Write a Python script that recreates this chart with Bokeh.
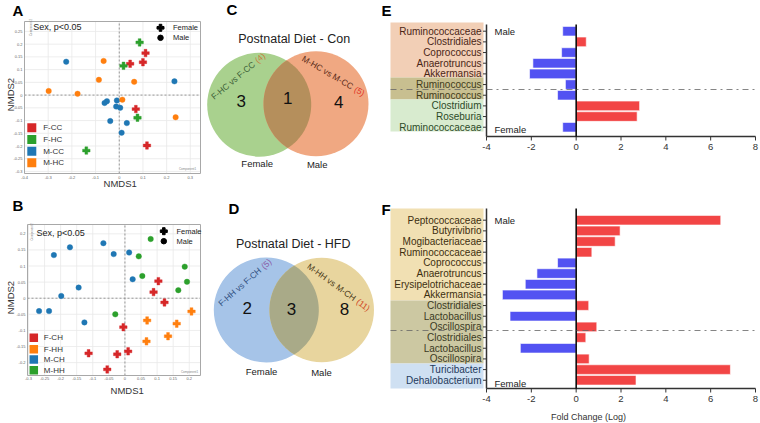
import numpy as np
from bokeh.plotting import figure
from bokeh.layouts import column, row
from bokeh.models import Range1d
from bokeh.embed import file_html
from bokeh.resources import INLINE
from bokeh.core.properties import value

FONT = "Liberation Sans"

# ---------------- DATA ----------------
# Panel A : NMDS (control postnatal diet)
a_groups = ["F-CC", "F-HC", "M-CC", "M-HC"]
a_colors = ["#d62728", "#2ca02c", "#1f77b4", "#ff7f0e"]
a_sex = ["Female", "Female", "Male", "Male"]
a_fcc_x = [0.111, 0.046, 0.100, 0.070, 0.117]
a_fcc_y = [0.165, 0.123, 0.129, -0.055, -0.198]
a_fhc_x = [0.086, 0.018, 0.077, -0.139]
a_fhc_y = [0.207, 0.115, -0.089, -0.218]
a_mcc_x = [-0.224, 0.233, -0.062, -0.052, -0.010, -0.013, 0.004, -0.038, 0.032, 0.010]
a_mcc_y = [0.131, 0.054, -0.031, -0.024, -0.021, -0.045, -0.050, -0.102, -0.110, -0.148]
a_mhc_x = [-0.066, -0.086, 0.063, -0.298, -0.176, 0.013, 0.238]
a_mhc_y = [0.134, 0.060, 0.052, 0.016, 0.005, -0.018, -0.087]
a_xticks = [-0.4, -0.3, -0.2, -0.1, 0, 0.1, 0.2, 0.3]
a_yticks = [-0.3, -0.25, -0.2, -0.15, -0.1, -0.05, 0, 0.05, 0.1, 0.15, 0.2, 0.25]

# Panel B : NMDS (HFD postnatal diet)
b_groups = ["F-CH", "F-HH", "M-CH", "M-HH"]
b_colors = ["#d62728", "#ff7f0e", "#1f77b4", "#2ca02c"]
b_sex = ["Female", "Female", "Male", "Male"]
b_fch_x = [0.104, 0.089, 0.123, -0.005, -0.113, -0.024, 0.010, -0.055]
b_fch_y = [0.053, 0.019, -0.013, -0.090, -0.171, -0.174, -0.165, -0.221]
b_fhh_x = [0.069, 0.067, 0.134, 0.161, 0.207]
b_fhh_y = [-0.069, -0.134, -0.118, -0.079, -0.041]
b_mch_x = [-0.221, -0.171, -0.067, -0.035, 0.013, 0.024, -0.144, -0.198, -0.267, -0.236, -0.126]
b_mch_y = [0.134, 0.158, 0.171, 0.137, 0.142, 0.059, 0.033, 0.007, -0.040, -0.040, -0.075]
b_mhh_x = [0.080, 0.043, 0.186, 0.054, 0.193, 0.166, -0.030]
b_mhh_y = [0.184, 0.130, 0.098, 0.069, 0.051, 0.025, -0.050]
b_xticks = [-0.3, -0.25, -0.2, -0.15, -0.1, -0.05, 0, 0.05, 0.1, 0.15, 0.2]
b_yticks = [-0.2, -0.15, -0.1, -0.05, 0, 0.05, 0.1, 0.15, 0.2]

stat_text = "Sex, p<0.05"
nmds_x_title = "NMDS1"
nmds_y_title = "NMDS2"

# Panel C / D : Venn diagrams
c_title = "Postnatal Diet - Con"
c_sets = ["Female", "Male"]
c_comparisons = ["F-HC vs F-CC", "M-HC vs M-CC"]
c_totals = ["(4)", "(5)"]
c_counts = ["3", "1", "4"]          # female only, shared, male only

d_title = "Postnatal Diet - HFD"
d_sets = ["Female", "Male"]
d_comparisons = ["F-HH vs F-CH", "M-HH vs M-CH"]
d_totals = ["(5)", "(11)"]
d_counts = ["2", "3", "8"]

# Panel E / F : fold change (log)
e_taxa = ["Ruminococcaceae", "Clostridiales", "Coprococcus", "Anaerotruncus", "Akkermansia",
          "Ruminococcus", "Ruminococcus", "Clostridium", "Roseburia", "Ruminococcaceae"]
e_fc = [-0.60, 0.45, -0.65, -1.93, -2.08, -0.48, -0.83, 2.83, 2.72, -0.60]
e_group = ["Male"] * 5 + ["Both"] * 2 + ["Female"] * 3

f_taxa = ["Peptococcaceae", "Butyrivibrio", "Mogibacteriaceae", "Ruminococcaceae", "Coprococcus",
          "Anaerotruncus", "Erysipelotrichaceae", "Akkermansia", "Clostridiales", "Lactobacillus",
          "Oscillospira", "Clostridiales", "Lactobacillus", "Oscillospira", "Turicibacter",
          "Dehalobacterium"]
f_fc = [6.45, 1.96, 1.74, 0.70, -0.83, -1.75, -2.27, -3.29, 0.56, -2.95, 0.92, 0.43, -2.49, 0.58,
        6.88, 2.67]
f_group = ["Male"] * 8 + ["Both"] * 6 + ["Female"] * 2
fc_ticks = [-4, -2, 0, 2, 4, 6, 8]
fc_title = "Fold Change (Log)"


# ---------------- helpers ----------------
class Frame:
    """maps page pixels (layout) to data units of one panel"""
    def __init__(s, fl, ft, fr, fb, xr, yr):
        s.fl, s.ft, s.fr, s.fb, s.xr, s.yr = fl, ft, fr, fb, xr, yr

    def x(s, px):
        return s.xr[0] + (px - s.fl) * (s.xr[1] - s.xr[0]) / (s.fr - s.fl)

    def y(s, py):
        return s.yr[1] - (py - s.ft) * (s.yr[1] - s.yr[0]) / (s.fb - s.ft)


def base_fig(page, F):
    x0, y0, W, H = page
    p = figure(width=W, height=H, title=None,
               x_range=Range1d(F.x(x0), F.x(x0 + W)), y_range=Range1d(F.y(y0 + H), F.y(y0)),
               x_axis_location=None, y_axis_location=None,
               output_backend="svg", toolbar_location=None, min_border=0)
    p.grid.visible = False
    p.outline_line_color = None
    p.background_fill_color = "white"
    p.border_fill_color = "white"
    return p


def txt(p, xs, ys, texts, size, color="#222222", align="left", base="middle", angle=0.0, style="normal"):
    p.text(x=xs, y=ys, text=texts, angle=angle, text_font=value(FONT), text_font_size=size,
           text_color=color, text_align=align, text_baseline=base, text_font_style=style)


def scatter_panel(letter, letter_py, page, frame, xr, yr, xticks, yticks, groups, colors, sexes,
                  xs, ys, sw_px, sw_rows, sw_size, lab_px, sex_px, sex_rows, sex_text_px,
                  stat_pos, n1_pos, n2_pos, comp2_pos, comp1_pos, xlab_dy):
    x0, y0, W, H = page
    fl, ft, fr, fb = frame
    F = Frame(fl, ft, fr, fb, xr, yr)
    p = base_fig(page, F)
    # grid
    p.segment(x0=xticks, x1=xticks, y0=[yr[0]] * len(xticks), y1=[yr[1]] * len(xticks),
              line_color="#e8e8e8", line_width=0.8)
    p.segment(x0=[xr[0]] * len(yticks), x1=[xr[1]] * len(yticks), y0=yticks, y1=yticks,
              line_color="#e8e8e8", line_width=0.8)
    # zero reference lines
    p.segment(x0=[0, xr[0]], y0=[yr[0], 0], x1=[0, xr[1]], y1=[yr[1], 0],
              line_color="#8c8c8c", line_dash="2 2", line_width=0.9)
    # plot frame
    p.quad(left=[xr[0]], right=[xr[1]], bottom=[yr[0]], top=[yr[1]], fill_color=None,
           line_color="#a8a8a8", line_width=1)
    # tick labels
    txt(p, xticks, [F.y(fb + xlab_dy)] * len(xticks), [f"{t:g}" for t in xticks], "4px", "#666666", "center")
    txt(p, [F.x(fl - 2)] * len(yticks), yticks, [f"{t:g}" for t in yticks], "4px", "#666666", "right")
    for gx, gy, c, s in zip(xs, ys, colors, sexes):
        if s == "Female":
            p.scatter(gx, gy, marker="plus", size=7.5, fill_color=c, line_color=c, line_width=0.4)
        else:
            p.scatter(gx, gy, marker="circle", size=5.5, fill_color=c, line_color=c, line_width=0.4)
    # group legend (coloured squares)
    p.scatter([F.x(sw_px)] * len(groups), [F.y(r) for r in sw_rows], marker="square",
              size=sw_size, fill_color=colors, line_color=None)
    txt(p, [F.x(lab_px)] * len(groups), [F.y(r) for r in sw_rows], groups, "8px", "#333333")
    # sex legend
    p.scatter([F.x(sex_px)], [F.y(sex_rows[0])], marker="plus", size=7, color="black")
    p.scatter([F.x(sex_px)], [F.y(sex_rows[1])], marker="circle", size=5.5, color="black")
    txt(p, [F.x(sex_text_px)] * 2, [F.y(r) for r in sex_rows], ["Female", "Male"], "7.5px")
    txt(p, [F.x(stat_pos[0])], [F.y(stat_pos[1])], [stat_text], "9px")
    txt(p, [F.x(n1_pos[0])], [F.y(n1_pos[1])], [nmds_x_title], "9.5px", "#333333", "center")
    txt(p, [F.x(n2_pos[0])], [F.y(n2_pos[1])], [nmds_y_title], "9.5px", "#333333", "center", angle=np.pi / 2)
    txt(p, [F.x(comp2_pos[0])], [F.y(comp2_pos[1])], ["Component2"], "3px", "#888888", "center", angle=np.pi / 2)
    txt(p, [F.x(comp1_pos[0])], [F.y(comp1_pos[1])], ["Component1"], "3px", "#888888", "center")
    txt(p, [F.x(x0 + 12)], [F.y(letter_py)], [letter], "15px", "black", style="bold")
    return p


def lens(c1, c2, r1, r2, n=60):
    (x1, y1), (x2, y2) = c1, c2
    d = np.hypot(x2 - x1, y2 - y1)
    a = (r1 ** 2 - r2 ** 2 + d ** 2) / (2 * d)
    th = np.arctan2(y2 - y1, x2 - x1)
    al1 = np.arccos(a / r1)
    al2 = np.arccos((d - a) / r2)
    t1 = np.linspace(th - al1, th + al1, n)
    t2 = np.linspace(th + np.pi - al2, th + np.pi + al2, n)
    return (np.concatenate([x1 + r1 * np.cos(t1), x2 + r2 * np.cos(t2)]),
            np.concatenate([y1 + r1 * np.sin(t1), y2 + r2 * np.sin(t2)]))


def venn_panel(letter, letter_pos, page, title, title_pos, sets, set_pos, comps, totals, comp_cfg,
               counts, count_pos, centers, radii, fills, overlap):
    x0, y0, W, H = page
    # layout units: page pixels, y pointing up
    F = Frame(x0, y0, x0 + W, y0 + H, (x0, x0 + W), (-(y0 + H), -y0))
    p = base_fig(page, F)
    cx = [c[0] for c in centers]
    cy = [-c[1] for c in centers]
    p.circle(x=cx, y=cy, radius=radii, fill_color=fills, line_color=None)
    lx, ly = lens((cx[0], cy[0]), (cx[1], cy[1]), radii[0], radii[1])
    p.patch(lx, ly, fill_color=overlap, line_color=None)
    txt(p, [title_pos[0]], [-title_pos[1]], [title], "12.5px", "#222222", "center")
    txt(p, [c[0] for c in count_pos], [-c[1] for c in count_pos], counts, "17px", "#111111", "center")
    txt(p, [s[0] for s in set_pos], [-s[1] for s in set_pos], sets, "9.5px", "#222222", "center")
    for comp, tot, (jx, jy, deg, c_main, c_tot) in zip(comps, totals, comp_cfg):
        ang = np.deg2rad(deg)
        ux, uy = np.cos(ang), np.sin(ang)
        txt(p, [jx - 1.5 * ux], [-jy - 1.5 * uy], [comp], "8.5px", c_main, "right", angle=ang)
        txt(p, [jx + 1.5 * ux], [-jy + 1.5 * uy], [tot], "8.5px", c_tot, "left", angle=ang)
    txt(p, [letter_pos[0]], [-letter_pos[1]], [letter], "15px", "black", style="bold")
    return p


def bar_panel(letter, letter_py, page, axis_py, taxa, fc, groups, first_row_py,
              band_py, band_fill, band_text, dash_py, axis_top_py, male_py, female_py, xlabel_py=None):
    x0, y0, W, H = page
    n = len(taxa)
    x_px = (486, 755)        # page x of the first / last fold-change tick
    RP = 10.67               # row pitch in pixels
    xr = (fc_ticks[0], fc_ticks[-1])
    F = Frame(x_px[0], first_row_py, x_px[1], first_row_py + (n - 1) * RP, xr, (1, n))
    p = base_fig(page, F)
    rows = [n - i for i in range(n)]
    keys = ["Male", "Both", "Female"]
    # coloured bands behind the category labels
    p.quad(left=F.x(390), right=F.x(483), top=[F.y(v) for v in band_py[:-1]],
           bottom=[F.y(v) for v in band_py[1:]], fill_color=band_fill, line_color=None)
    tcol = [band_text[keys.index(g)] for g in groups]
    txt(p, [F.x(481)] * n, rows, taxa, "10px", tcol, "right")
    # bars
    colors = ["#f24545" if v > 0 else "#5252f2" for v in fc]
    p.hbar(y=rows, left=0, right=fc, height=0.9, fill_color=colors, line_color="white", line_width=0.6)
    ya, yt = F.y(axis_py), F.y(axis_top_py)
    # y axis with category ticks
    p.segment(x0=[F.x(482.5)] * n, x1=[xr[0]] * n, y0=rows, y1=rows, line_color="#333333", line_width=1)
    p.segment(x0=[xr[0]], x1=[xr[0]], y0=[ya], y1=[yt], line_color="#333333", line_width=1.5)
    # x axis
    p.segment(x0=[xr[0]], x1=[xr[1]], y0=[ya], y1=[ya], line_color="#333333", line_width=1.5)
    nt = len(fc_ticks)
    p.segment(x0=fc_ticks, x1=fc_ticks, y0=[ya] * nt, y1=[F.y(axis_py + 4)] * nt,
              line_color="#333333", line_width=1)
    txt(p, fc_ticks, [F.y(axis_py + 10)] * nt, [f"{t:g}" for t in fc_ticks], "9.5px", "#333333", "center")
    # zero line
    p.segment(x0=[0], x1=[0], y0=[ya], y1=[yt], line_color="black", line_width=1.5)
    # separator between male-specific and female-specific groups
    p.segment(x0=[F.x(390)], x1=[F.x(758)], y0=[F.y(dash_py)], y1=[F.y(dash_py)], line_color="#666666",
              line_dash="dashdot", line_width=0.8)
    txt(p, [F.x(494)], [F.y(male_py)], ["Male"], "9.5px")
    txt(p, [F.x(494)], [F.y(female_py)], ["Female"], "9.5px")
    if xlabel_py is not None:
        txt(p, [F.x(588)], [F.y(xlabel_py)], [fc_title], "9px", "#333333", "center")
    txt(p, [F.x(x0 + 1)], [F.y(letter_py)], [letter], "15px", "black", style="bold")
    return p


# ---------------- panels ----------------
TOP_H, BOT_Y, BOT_H = 194, 194, 229

pa = scatter_panel("A", 10, (0, 0, 202, TOP_H), (24, 21, 200, 173), (-0.4, 0.343), (-0.308, 0.289),
                   a_xticks, a_yticks, a_groups, a_colors, a_sex,
                   [a_fcc_x, a_fhc_x, a_mcc_x, a_mhc_x], [a_fcc_y, a_fhc_y, a_mcc_y, a_mhc_y],
                   31.3, [127.3, 139, 150.7, 162.3], 9, 42.7, 160, [27.3, 37.3], 172.5,
                   (32.7, 26.7), (119.7, 183), (9.5, 94), (30, 27), (187, 168), 3.5)

pb = scatter_panel("B", 205, (0, BOT_Y, 202, BOT_H), (27, 224, 200, 375), (-0.303, 0.235), (-0.240, 0.229),
                   b_xticks, b_yticks, b_groups, b_colors, b_sex,
                   [b_fch_x, b_fhh_x, b_mch_x, b_mhh_x], [b_fch_y, b_fhh_y, b_mch_y, b_mhh_y],
                   33.3, [337.3, 348.7, 359, 369.7], 8.5, 43.3, 163.3, [230.7, 240.7], 176,
                   (36, 232.3), (126.7, 390), (9.5, 297), (31, 231.5), (189, 371.5), 3)

pc = venn_panel("C", (226, 9), (202, 0, 178, TOP_H), c_title, (293.7, 38.3), c_sets,
                [(256.7, 163.3), (316.7, 164)], c_comparisons, c_totals,
                [(254.3, 61.7, 40, "#3b5e36", "#c8783c"), (353.3, 87.3, -30.5, "#5a2a18", "#e0301e")],
                c_counts, [(240.7, 100), (287.3, 97.3), (338.3, 101)],
                [(258.7, 104.2), (315.5, 103.3)], [52, 52.5], ["#a9d18e", "#f0a882"], "#b58f5c")

pd_ = venn_panel("D", (228, 208), (202, BOT_Y, 178, BOT_H), d_title, (292.7, 243.3), d_sets,
                 [(261, 371), (321, 371.7)], d_comparisons, d_totals,
                 [(260.7, 267.7, 41, "#2f4f80", "#8a5aa5"), (355.7, 299.3, -35.7, "#4a3a18", "#d0451e")],
                 d_counts, [(246.7, 307.7), (291, 308.3), (344, 308.3)],
                 [(265.8, 309.5), (321.2, 309.5)], [52.5, 52.3], ["#a6c4e8", "#e8d59e"], "#a9aa88")

pe = bar_panel("E", 10, (380, 0, 380, TOP_H), 136, e_taxa, e_fc, e_group, 30.7,
               [22, 77, 99, 131], ["#f2cfb6", "#c8bf90", "#d8ebcf"],
               ["#4a2616", "#3f3c1a", "#2c4a28"], 89, 24, 30.5, 129)

pf = bar_panel("F", 209, (380, BOT_Y, 380, BOT_H), 388, f_taxa, f_fc, f_group, 219.7,
               [208, 300, 363, 388], ["#f1e0b3", "#ccc8a2", "#cfe0f2"],
               ["#3d2f10", "#3a3a24", "#1f3a5c"], 330, 208, 219.7, 383, xlabel_py=416)

layout = column(row(pa, pc, pe), row(pb, pd_, pf))
open("out.html", "w").write(file_html(layout, INLINE))
